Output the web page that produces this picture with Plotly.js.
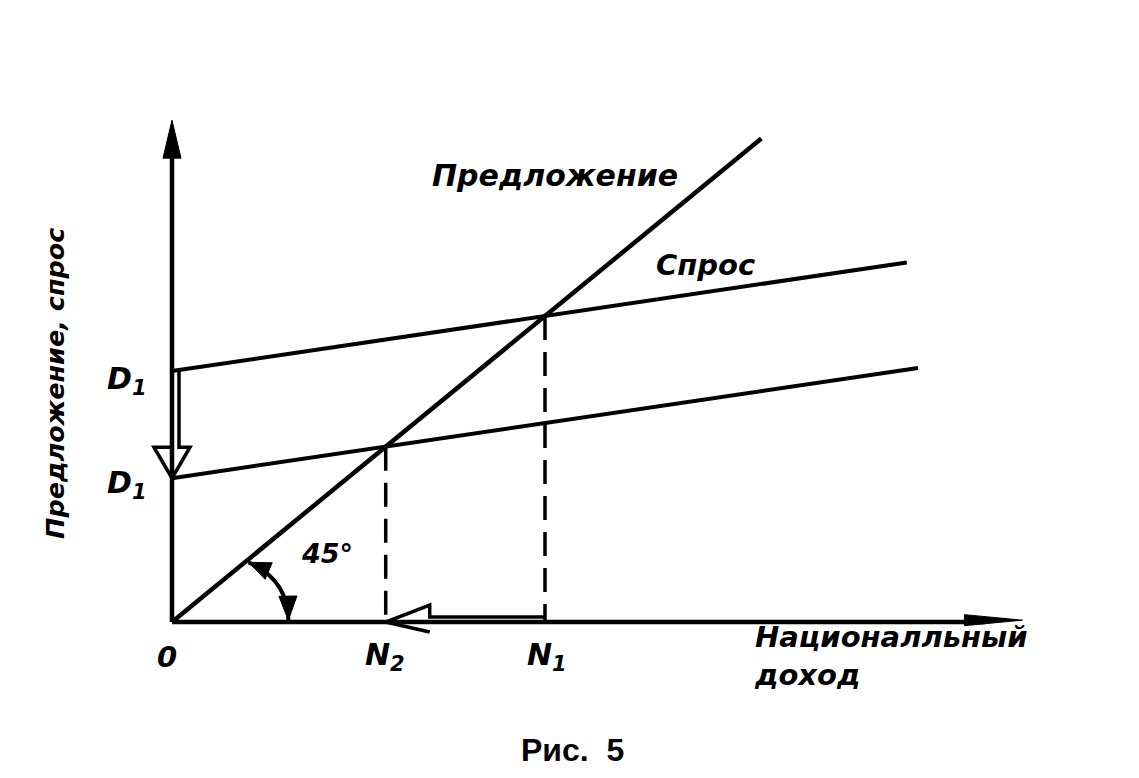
<!DOCTYPE html>
<html>
<head>
<meta charset="utf-8">
<script src="https://cdn.plot.ly/plotly-3.0.1.min.js"></script>
<style>
  html, body { margin: 0; padding: 0; background: #fff; }
  #chart { width: 1139px; height: 778px; }
</style>
</head>
<body>
<div id="chart"></div>
<script>
// Equilibrium levels of national income (N) and the demand intercepts (D1)
const N1 = 100;
const N2 = 57.3;
const D1_HIGH = 82;
const D1_LOW = 47;

// Supply: the 45-degree line
const supplyX = [0, 158];
const supplyY = [0, 158];

// Demand before the shift
const demandX = [0, 197];
const demandY = [82, 117.5];

// Demand after the shift
const demandLowX = [0, 200];
const demandLowY = [47, 83];

// Axis extents (data units)
const yAxisTop = 164;
const xAxisEnd = 228;

// Tick-style labels
const originLabel = '0';
const nLabels = ['N<sub>1</sub>', 'N<sub>2</sub>'];
const dLabel = 'D<sub>1</sub>';

// ---- geometry of the drawing surface ----
const W = 1139, H = 778;
const xr = [-46.11, 259.25];
const yr = [-50.98, 203.27];
const sx = W / (xr[1] - xr[0]);   // px per x unit
const sy = H / (yr[1] - yr[0]);   // px per y unit

const INK = '#000';
const FONT = 'DejaVu Sans, Liberation Sans, sans-serif';

function line(x, y, width, dash) {
  return {
    type: 'scatter', mode: 'lines', x: x, y: y,
    line: { color: INK, width: width, dash: dash || 'solid' },
    hoverinfo: 'skip', showlegend: false, cliponaxis: false
  };
}

const traces = [
  line(supplyX, supplyY, 4.5),
  line(demandX, demandY, 4),
  line(demandLowX, demandLowY, 4),
  line([N1, N1], [N1, 0], 3.5, '24px,12px'),
  line([N2, N2], [N2, 0], 3.5, '24px,12px')
];

// Filled triangular arrowhead, tip at (tx,ty) in data units, pointing along
// (dx,dy) measured in pixels; length/halfwidth in pixels.
function headPath(tx, ty, dx, dy, len, half) {
  const n = Math.hypot(dx, dy);
  const ux = dx / n, uy = dy / n;           // pixel direction (y down)
  const bx = -ux * len, by = -uy * len;     // back from tip
  const px = -uy * half, py = ux * half;    // perpendicular
  const p1 = [tx + (bx + px) / sx, ty - (by + py) / sy];
  const p2 = [tx + (bx - px) / sx, ty - (by - py) / sy];
  return `M ${tx},${ty} L ${p1[0]},${p1[1]} L ${p2[0]},${p2[1]} Z`;
}

const shapes = [];
// axes
shapes.push({ type: 'line', x0: 0, y0: 0, x1: 0, y1: yAxisTop - 8, line: { color: INK, width: 4.5 } });
shapes.push({ type: 'line', x0: 0, y0: 0, x1: xAxisEnd - 10, y1: 0, line: { color: INK, width: 4.5 } });
shapes.push({ type: 'path', path: headPath(0, yAxisTop, 0, -1, 38, 9), fillcolor: INK, line: { color: INK, width: 1 } });
shapes.push({ type: 'path', path: headPath(xAxisEnd, 0.6, 1, 0, 58, 5.5), fillcolor: INK, line: { color: INK, width: 1 } });

// hollow arrow: demand shift D1 -> D1 along the vertical axis
(function () {
  const shaftR = 7 / sx;             // right edge of the shaft
  const headBase = D1_LOW + 31 / sy; // where the head starts
  const hw = 18 / sx;                // head half-width
  const p = `M ${shaftR},${D1_HIGH} L ${shaftR},${headBase} L ${hw},${headBase} ` +
            `L 0,${D1_LOW} L ${-hw},${headBase} L 0,${headBase}`;
  shapes.push({ type: 'path', path: p, line: { color: INK, width: 3.5 } });
})();

// hollow arrow: income falls from N1 to N2 along the horizontal axis
(function () {
  const shaftT = 5 / sy;
  const headBase = N2 + 44 / sx;
  const p = `M ${N1},${shaftT} L ${headBase},${shaftT} L ${headBase},${17 / sy} ` +
            `L ${N2},0 L ${headBase},${-10 / sy}`;
  shapes.push({ type: 'path', path: p, line: { color: INK, width: 3.5 } });
})();

// 45-degree angle mark with arrowheads at both ends
(function () {
  const P0 = [20.5, 19.5], C = [31, 14], P2 = [31.2, 0.6];
  shapes.push({ type: 'path', path: `M ${P0[0]},${P0[1]} Q ${C[0]},${C[1]} ${P2[0]},${P2[1]}`,
    line: { color: INK, width: 4 } });
  // tangent directions in pixels (y down)
  const d0 = [(P0[0] - C[0]) * sx, -(P0[1] - C[1]) * sy];
  const d2 = [(P2[0] - C[0]) * sx, -(P2[1] - C[1]) * sy];
  shapes.push({ type: 'path', path: headPath(P0[0], P0[1], d0[0], d0[1], 22, 9), fillcolor: INK, line: { color: INK, width: 1 } });
  shapes.push({ type: 'path', path: headPath(P2[0], P2[1], d2[0], d2[1], 24, 9), fillcolor: INK, line: { color: INK, width: 1 } });
})();

function label(text, x, y, size, opts) {
  return Object.assign({
    text: text, x: x, y: y, xref: 'x', yref: 'y', showarrow: false,
    font: { family: FONT, size: size, color: INK, weight: 'bold', style: 'italic' }
  }, opts || {});
}

const annotations = [
  label('Предложение', 102.7, 146, 30),
  label('Спрос', 142.9, 116.7, 29),
  label(dLabel, -12.1, D1_HIGH - 3.2, 30),
  label(dLabel, -12.1, D1_LOW - 2.2, 30),
  label(originLabel, -1.3, -11.4, 29),
  label(nLabels[0], N1 + 0.5, -11.4, 30),
  label(nLabels[1], N2 - 0.2, -11.4, 30),
  label('45°', 41.6, 22.5, 27),
  label('Националльный<br>доход', 155.5, -11, 29, { xanchor: 'left', align: 'left' }),
  label('Предложение, спрос', -31.4, 78.1, 25.5, { textangle: -90 }),
  label('Рис.&nbsp;&nbsp;5', 107.5, -41.8, 32, {
    font: { family: 'Liberation Sans, Arial, sans-serif', size: 32, color: INK, weight: 'bold', style: 'normal' }
  })
];

const layout = {
  width: W, height: H,
  margin: { l: 0, r: 0, t: 0, b: 0, pad: 0 },
  paper_bgcolor: '#fff', plot_bgcolor: '#fff',
  showlegend: false,
  xaxis: { range: xr, visible: false, fixedrange: true },
  yaxis: { range: yr, visible: false, fixedrange: true },
  shapes: shapes,
  annotations: annotations
};

Plotly.newPlot('chart', traces, layout, { staticPlot: true, displayModeBar: false });
</script>
</body>
</html>
